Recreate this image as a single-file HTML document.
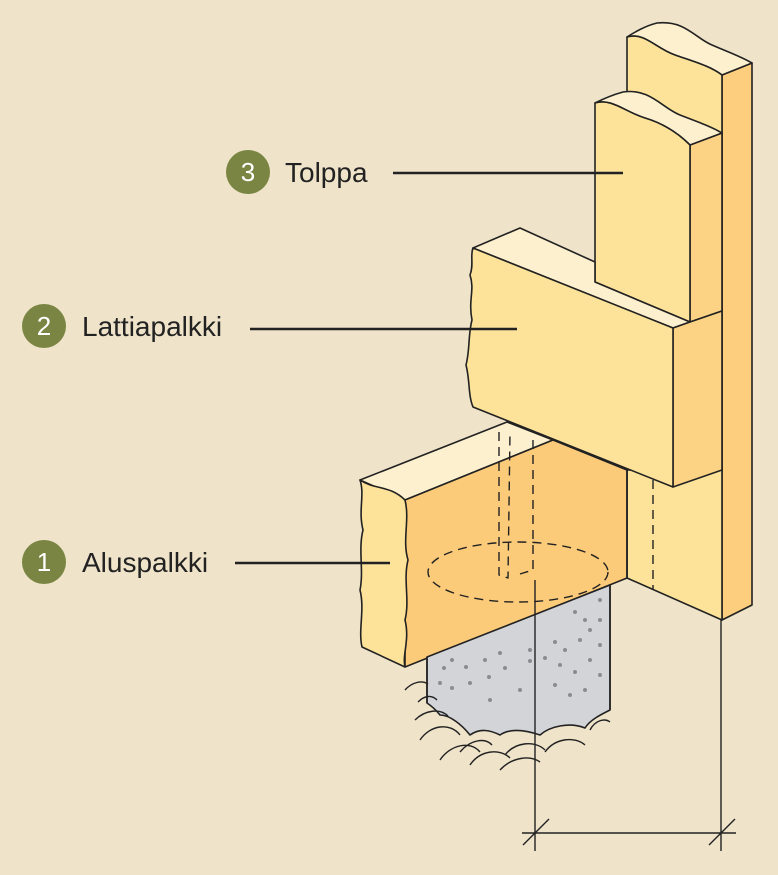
<!DOCTYPE html>
<html><head><meta charset="utf-8"><style>
html,body{margin:0;padding:0;background:#efe3c9;}
svg{display:block}
text{font-family:"Liberation Sans",sans-serif;}
</style></head><body>
<svg width="778" height="875" viewBox="0 0 778 875" xmlns="http://www.w3.org/2000/svg">
<rect width="778" height="875" fill="#efe3c9"/>
<g stroke="#222" stroke-width="1.6" stroke-linejoin="round" fill="none">
<!-- tall back post -->
<path d="M722,75 L752,63 L752,605 L722,620 Z" fill="#fcce7e"/>
<path d="M627,37 C645,32 655,48 675,55 C695,62 710,66 722,75 L752,63 C740,56 728,52 712,45 C695,38 685,20 657,23 C645,26 635,32 627,37 Z" fill="#fdf0cf"/>
<path d="M627,37 C645,32 655,48 675,55 C695,62 710,66 722,75 L722,470 L627,470 Z" fill="#fde39a"/>
<path d="M627,470 L722,470 L722,620 L627,578 Z" fill="#fde39a"/>
<!-- middle post -->
<path d="M690,145 L722,133 L722,311 L690,322 Z" fill="#fcd384"/>
<path d="M595,103 C612,98 625,112 645,118 C665,124 680,135 690,145 L722,133 C710,126 698,122 680,115 C662,108 650,88 623,92 C612,95 603,99 595,103 Z" fill="#fdf0cf"/>
<path d="M595,103 C612,98 625,112 645,118 C665,124 680,135 690,145 L690,322 L595,282 Z" fill="#fde39a"/>
<!-- lattiapalkki -->
<path d="M473,248 L520,228 L595,262 L595,282 L690,322 L673,328 Z" fill="#fdf0cf"/>
<path d="M673,328 L690,322 L722,311 L722,470 L673,487 Z" fill="#fcd384"/>
<path d="M473,248 L673,328 L673,487 L473,407 C468,395 470,380 466,365 C470,350 468,335 472,320 C468,300 475,290 470,275 C474,265 470,255 473,248 Z" fill="#fde39a"/>
<!-- aluspalkki -->
<path d="M360,480 L507,422 L553,440 L405,500 Z" fill="#fdf0cf"/>
<path d="M405,500 L553,440 L627,470 L627,578 L405,667 Z" fill="#fccb7a"/>
<path d="M360,480 C375,490 390,485 405,500 C410,520 402,540 408,560 C403,580 410,600 405,620 C410,640 402,655 405,667 L362,647 C358,630 365,610 360,590 C364,570 358,550 363,530 C358,510 365,495 360,480 Z" fill="#fde39a"/>
<path d="M627,470 L627,578"/>
<!-- hidden dashed -->
<g stroke-dasharray="9,6" stroke-width="1.4">
<ellipse cx="518" cy="572" rx="90" ry="30"/>
<path d="M499,432 L499,575 L508,578 L510,432"/>
<path d="M533,440 L533,570 L520,574"/>
<path d="M653,480 L653,590"/>
</g>
<!-- concrete -->
<path d="M427,657 L610,585 L610,710 C600,715 590,720 585,728 C570,722 550,726 540,735 C525,730 510,728 500,735 C490,730 480,728 470,735 C462,725 450,715 440,715 C436,710 430,705 427,703 Z" fill="#d3d4d8"/>
<path d="M427,657 L427,703 M610,585 L610,710"/>
</g>
<g fill="#8a8c92">
<circle cx="452" cy="660" r="2"/><circle cx="466" cy="667" r="2"/><circle cx="485" cy="660" r="2"/><circle cx="500" cy="653" r="2"/><circle cx="452" cy="688" r="2"/><circle cx="470" cy="683" r="2"/><circle cx="489" cy="677" r="2"/><circle cx="505" cy="668" r="2"/><circle cx="440" cy="683" r="2"/><circle cx="444" cy="668" r="2"/><circle cx="490" cy="700" r="2"/><circle cx="520" cy="690" r="2"/><circle cx="530" cy="661" r="2"/><circle cx="530" cy="650" r="2"/><circle cx="545" cy="658" r="2"/><circle cx="555" cy="642" r="2"/><circle cx="565" cy="650" r="2"/><circle cx="580" cy="640" r="2"/><circle cx="590" cy="630" r="2"/><circle cx="600" cy="620" r="2"/><circle cx="560" cy="665" r="2"/><circle cx="575" cy="672" r="2"/><circle cx="590" cy="660" r="2"/><circle cx="600" cy="645" r="2"/><circle cx="555" cy="685" r="2"/><circle cx="570" cy="695" r="2"/><circle cx="585" cy="690" r="2"/><circle cx="600" cy="675" r="2"/><circle cx="600" cy="600" r="2"/><circle cx="575" cy="612" r="2"/><circle cx="585" cy="620" r="2"/>
</g>
<g stroke="#222" stroke-width="1.4" fill="none">
<path d="M418,702 C425,695 432,695 437,700"/>
<path d="M405,690 C412,682 422,680 428,684"/>
<path d="M415,720 C425,710 440,708 448,716"/>
<path d="M420,740 C430,725 450,722 460,735"/>
<path d="M440,760 C450,745 470,740 480,752"/>
<path d="M470,765 C480,750 500,748 510,758"/>
<path d="M505,755 C515,742 535,740 545,750"/>
<path d="M545,752 C555,738 575,736 585,745"/>
<path d="M590,730 C595,720 605,718 610,722"/>
<path d="M460,752 C470,740 485,737 492,745"/>
<path d="M500,770 C512,757 530,755 540,762"/>
</g>
<!-- dimension lines -->
<g stroke="#222" stroke-width="1.4" fill="none">
<path d="M535,580 L535,851 M721,620 L721,851 M522,833 L736,833 M523,845 L549,819 M709,845 L735,819"/>
</g>
<!-- leaders -->
<g stroke="#222" stroke-width="2.4">
<path d="M393,173 L623,173 M250,329 L517,329 M235,563 L390,563"/>
</g>
<g>
<circle cx="248" cy="172" r="22" fill="#7a8543"/>
<text x="248" y="181" fill="#fff" font-size="26" text-anchor="middle">3</text>
<text x="285" y="182" fill="#222" font-size="28">Tolppa</text>
<circle cx="44" cy="326" r="22" fill="#7a8543"/>
<text x="44" y="335" fill="#fff" font-size="26" text-anchor="middle">2</text>
<text x="82" y="336" fill="#222" font-size="28">Lattiapalkki</text>
<circle cx="44" cy="562" r="22" fill="#7a8543"/>
<text x="44" y="571" fill="#fff" font-size="26" text-anchor="middle">1</text>
<text x="82" y="572" fill="#222" font-size="28">Aluspalkki</text>
</g>
</svg>
</body></html>
